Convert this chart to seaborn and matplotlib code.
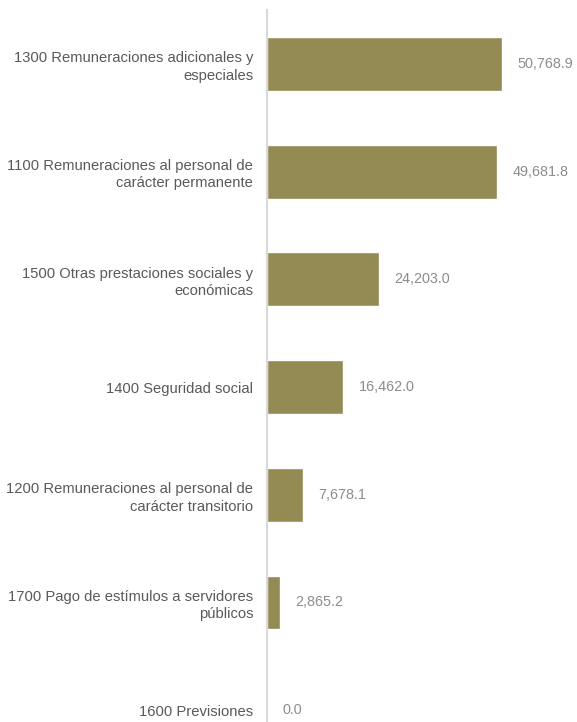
import matplotlib
matplotlib.use("Agg")
import matplotlib.pyplot as plt
import seaborn as sns
import pandas as pd

categorias = [
    "1300 Remuneraciones adicionales y\nespeciales",
    "1100 Remuneraciones al personal de\ncarácter permanente",
    "1500 Otras prestaciones sociales y\neconómicas",
    "1400 Seguridad social",
    "1200 Remuneraciones al personal de\ncarácter transitorio",
    "1700 Pago de estímulos a servidores\npúblicos",
    "1600 Previsiones",
]
montos = [50768.9, 49681.8, 24203.0, 16462.0, 7678.1, 2865.2, 0.0]

df = pd.DataFrame({"categoria": categorias, "monto": montos})

sns.set_style("white")
plt.rcParams['font.family'] = ['Liberation Sans', 'DejaVu Sans']

fig = plt.figure(figsize=(5.77, 7.22), dpi=100)
ax = fig.add_axes([267 / 577, 0, 1 - 267 / 577, 1 - 10 / 722])

sns.barplot(data=df, x="monto", y="categoria", orient="h", color="#948A54",
            saturation=1, width=0.5, ax=ax)

for i, v in enumerate(montos):
    ax.annotate(f"{v:,.1f}", (v, i), xytext=(11, 0), textcoords="offset points",
                va="center", ha="left", fontsize=10.4, color="#8C8C8C")

ax.set_xlim(0, 67000)
ax.set_ylim(6.11, -0.5)
ax.set_xlabel("")
ax.set_ylabel("")
ax.set_xticks([])
ax.tick_params(axis="y", length=0, pad=10, labelsize=10.6, labelcolor="#595959")
for lbl in ax.get_yticklabels():
    lbl.set_linespacing(1.3)
for s in ["top", "right", "bottom"]:
    ax.spines[s].set_visible(False)
ax.spines["left"].set_color("#D9D9D9")
ax.spines["left"].set_linewidth(1.5)

plt.savefig("out.png", dpi=100)
